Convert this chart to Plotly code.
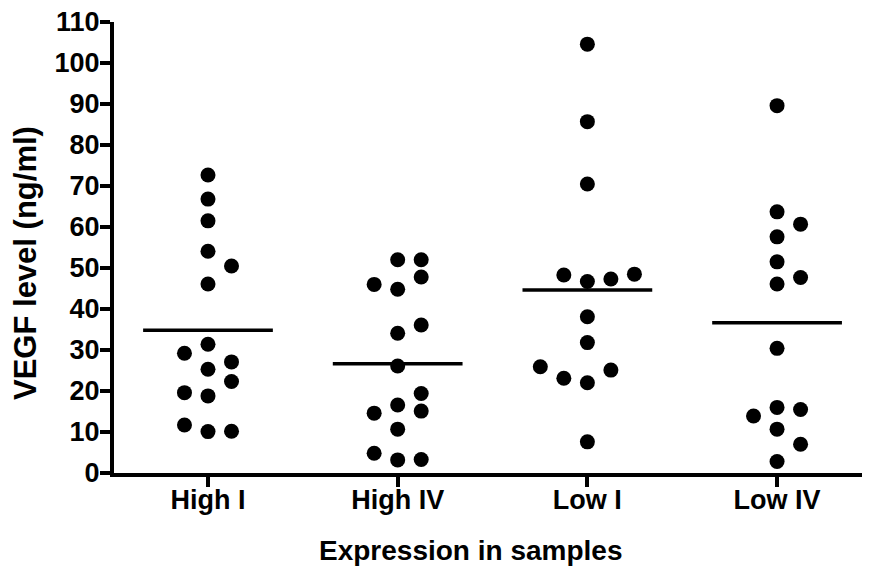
import numpy as np
import plotly.graph_objects as go

# ---- data (VEGF level, ng/ml) ----
categories = ["High I", "High IV", "Low I", "Low IV"]

high_I = [72.7, 66.8, 61.5, 54.1, 46.1, 31.4, 25.3, 18.8, 10.1,
          50.5, 27.1, 22.3, 10.2, 29.2, 19.6, 11.7]
high_IV = [52.0, 44.8, 34.1, 26.1, 16.6, 10.7, 3.2,
           52.0, 47.8, 36.1, 19.4, 15.1, 3.3, 46.0, 14.6, 4.8]
low_I = [104.6, 85.7, 70.5, 46.7, 38.1, 31.8, 22.0, 7.6,
         47.3, 25.1, 48.3, 23.1, 48.5, 25.9]
low_IV = [89.6, 63.7, 57.6, 51.5, 46.1, 30.4, 16.0, 10.7, 2.8,
          60.7, 47.7, 15.5, 7.0, 13.9]

groups = [high_I, high_IV, low_I, low_IV]

y_ticks = list(range(0, 111, 10))

# ---- styling ----
FONT = "Liberation Sans, Arial, sans-serif"
COLLIDE = 4.1        # vertical distance (data units) under which two dots overlap
SLOT = 0.124         # horizontal spacing of dot columns (category units)
MEAN_HALF = 0.342    # half-width of mean line (category units)
BODY = 8             # default page margin of the HTML body

PLOT_L, PLOT_T, PLOT_W, PLOT_H = 114, 22, 756, 451   # plot area on the page


def swarm_slots(values, d):
    """Simple beeswarm: put each point in the centre column if free,
    otherwise in the nearest free column to either side."""
    placed = []
    out = []

    def blocked(s, v):
        return any(ps == s and abs(pv - v) < d for ps, pv in placed)

    def nearest(s, v):
        ds = [abs(pv - v) for ps, pv in placed if ps == s]
        return min(ds) if ds else float("inf")

    for v in values:
        k = 0
        while True:
            if k == 0:
                if not blocked(0, v):
                    chosen = 0
                    break
            else:
                free = [s for s in (k, -k) if not blocked(s, v)]
                if free:
                    if len(free) == 2:
                        chosen = k if nearest(k - 1, v) >= nearest(-(k - 1), v) else -k
                    else:
                        chosen = free[0]
                    break
            k += 1
        placed.append((chosen, v))
        out.append(chosen)
    return out


fig = go.Figure()

for i, vals in enumerate(groups):
    slots = swarm_slots(vals, COLLIDE)
    xs = [i + s * SLOT for s in slots]
    fig.add_trace(go.Scatter(
        x=xs, y=vals, mode="markers",
        marker=dict(color="black", size=15, line=dict(width=0)),
        showlegend=False, hoverinfo="y", cliponaxis=False,
    ))
    m = float(np.mean(vals))
    fig.add_trace(go.Scatter(
        x=[i - MEAN_HALF, i + MEAN_HALF], y=[m, m], mode="lines",
        line=dict(color="black", width=3.5),
        showlegend=False, hoverinfo="skip",
    ))

W, H = 870 - BODY, 583 - BODY
fig.update_layout(
    width=W, height=H,
    margin=dict(l=PLOT_L - BODY, r=0, t=PLOT_T - BODY,
                b=H - (PLOT_T - BODY) - PLOT_H, autoexpand=False),
    paper_bgcolor="white", plot_bgcolor="white",
    font=dict(family=FONT, color="black"),
    xaxis=dict(
        range=[-0.4955, 3.49],
        tickmode="array", tickvals=list(range(len(categories))), ticktext=categories,
        showline=True, linewidth=4, linecolor="black",
        ticks="outside", ticklen=10, tickwidth=4, tickcolor="black",
        tickfont=dict(size=27, family=FONT, color="black", weight="bold"),
        ticklabelstandoff=-10, ticklabeloverflow="allow",
        showgrid=False, zeroline=False,
    ),
    yaxis=dict(
        range=[0, 110],
        tickmode="array", tickvals=y_ticks, ticktext=[str(t) for t in y_ticks],
        showline=True, linewidth=4, linecolor="black",
        ticks="outside", ticklen=10, tickwidth=4, tickcolor="black",
        tickfont=dict(size=27, family=FONT, color="black", weight="bold"),
        ticklabelstandoff=-5, ticklabeloverflow="allow",
        showgrid=False, zeroline=False,
    ),
    annotations=[
        dict(text="Expression in samples", xref="paper", yref="paper",
             x=(470 - PLOT_L) / PLOT_W, y=-(550 - (PLOT_T + PLOT_H)) / PLOT_H,
             xanchor="center", yanchor="middle",
             showarrow=False, font=dict(size=28, family=FONT, color="black", weight="bold")),
        dict(text="VEGF level (ng/ml)", xref="paper", yref="paper",
             x=-(PLOT_L - 25) / PLOT_W, y=((PLOT_T + PLOT_H) - 263) / PLOT_H,
             xanchor="center", yanchor="middle",
             textangle=-90, showarrow=False,
             font=dict(size=31, family=FONT, color="black", weight="bold")),
    ],
)

fig.write_html("out.html")
